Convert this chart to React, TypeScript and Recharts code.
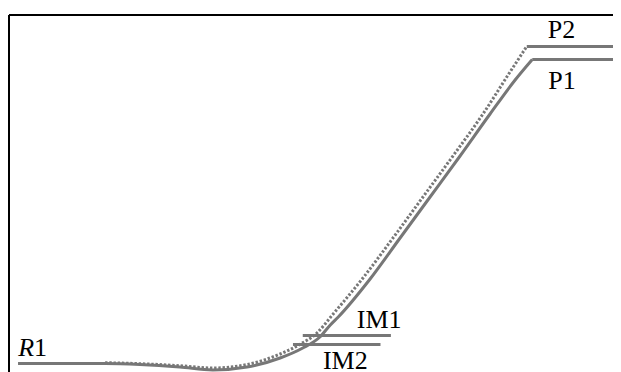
import React from "react";
import { LineChart, Line, XAxis, YAxis, ReferenceLine, Label } from "recharts";

// Reaction coordinate (arbitrary units 0..100) and relative energy (arbitrary units)
const solidX = [1.5, 15.7, 21.4, 27.9, 33.3, 38.9, 44.3, 48.0, 50.8, 52.5, 53.8, 59.0, 63.9, 68.8, 73.7, 78.6, 82.7, 85.5];
const solidE = [0, 0, -0.1, -0.35, -0.65, -0.35, 0.55, 1.55, 2.65, 3.85, 4.65, 8.45, 12.55, 16.65, 20.75, 24.95, 28.35, 30.4];

const dottedX = [15.7, 21.4, 27.9, 33.3, 38.9, 44.1, 47.2, 50.4, 52.9, 57.9, 62.8, 67.7, 72.6, 77.5, 81.6, 84.6];
const dottedE = [0.08, -0.02, -0.22, -0.45, -0.1, 0.9, 1.8, 3.1, 4.9, 8.6, 12.6, 16.7, 20.8, 25.0, 28.9, 31.7];

// Stationary-point levels
const levelNames = ["R1", "IM1", "IM2", "P2", "P1"];
const levelStart = [1.5, 48.0, 46.4, 84.6, 85.5];
const levelEnd = [15.7, 62.4, 60.7, 98.7, 99.5];
const levelE = [0, 2.8, 1.9, 31.7, 30.4];

const X_DOMAIN: [number, number] = [0, 100];
const Y_DOMAIN: [number, number] = [-0.85, 34.85];

// label placement relative to the start of each level bar (pixels)
const labelOffset: Record<string, [number, number]> = {
  R1: [0, -8],
  IM1: [54, -8],
  IM2: [30, 24],
  P2: [21, -9],
  P1: [16, 29.5],
};

const GRAY = "#777777";
const FONT = "Liberation Serif";

const solidData = solidX.map((x, i) => ({ x, e: solidE[i] }));
const dottedData = dottedX.map((x, i) => ({ x, e: dottedE[i] }));

function makeLabel(name: string) {
  const [dx, dy] = labelOffset[name];
  return (props: any) => {
    const vb = props.viewBox || {};
    const x = (vb.x ?? 0) + dx;
    const y = (vb.y ?? 0) + dy;
    if (name === "R1") {
      return (
        <text x={x} y={y} fontFamily={FONT} fontSize={26} fill="#000">
          <tspan fontStyle="italic">R</tspan>
          <tspan>1</tspan>
        </text>
      );
    }
    return (
      <text x={x} y={y} fontFamily={FONT} fontSize={26} fill="#000">
        {name}
      </text>
    );
  };
}

export default function App() {
  return (
    <LineChart
      width={613}
      height={364}
      margin={{ top: 7, right: 0, bottom: 0, left: 1 }}
    >
      <XAxis type="number" dataKey="x" domain={X_DOMAIN} hide allowDataOverflow />
      <YAxis type="number" domain={Y_DOMAIN} hide allowDataOverflow />
      <ReferenceLine x={X_DOMAIN[0]} stroke="#000" strokeWidth={2} />
      <ReferenceLine y={Y_DOMAIN[1]} stroke="#000" strokeWidth={2} />
      <Line
        data={solidData}
        dataKey="e"
        type="monotone"
        stroke={GRAY}
        strokeWidth={3}
        dot={false}
        activeDot={false}
        isAnimationActive={false}
      />
      <Line
        data={dottedData}
        dataKey="e"
        type="monotone"
        stroke={GRAY}
        strokeWidth={3}
        strokeDasharray="2.4 1.8"
        strokeLinecap="butt"
        dot={false}
        activeDot={false}
        isAnimationActive={false}
      />
      {levelNames.map((name, i) => (
        <ReferenceLine
          key={name}
          segment={[
            { x: levelStart[i], y: levelE[i] },
            { x: levelEnd[i], y: levelE[i] },
          ]}
          stroke={GRAY}
          strokeWidth={3}
        >
          <Label content={makeLabel(name)} />
        </ReferenceLine>
      ))}
    </LineChart>
  );
}
